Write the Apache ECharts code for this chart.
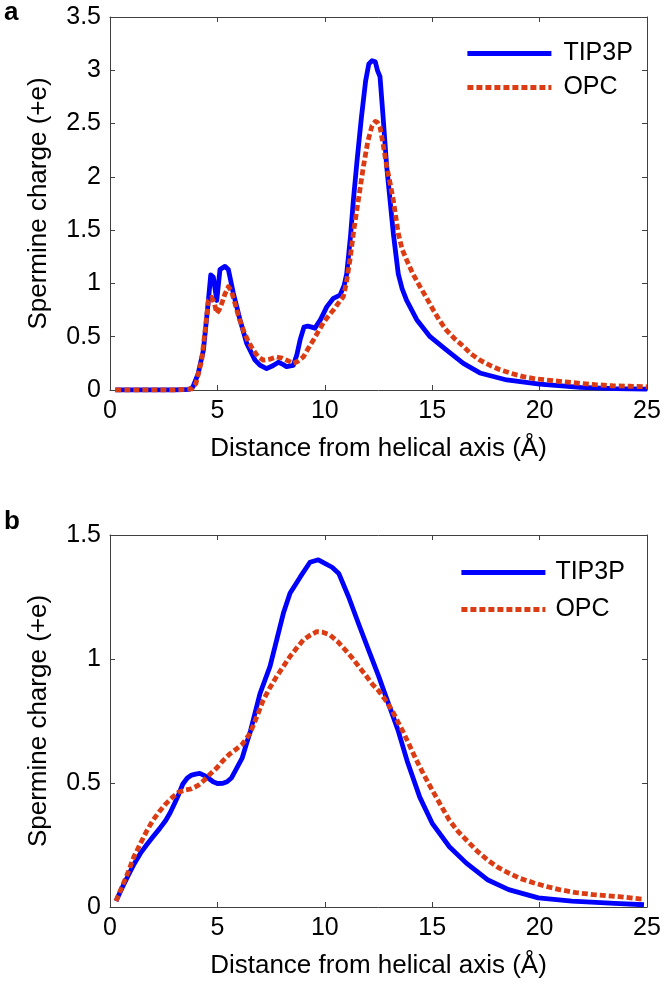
<!DOCTYPE html>
<html><head><meta charset="utf-8">
<script src="https://cdn.jsdelivr.net/npm/echarts@6/dist/echarts.min.js"></script>
<style>html,body{margin:0;padding:0;background:#fff}#c{width:664px;height:983px}</style>
</head><body><div id="c"></div>
<script>
// ---- Panel a data ----
const aTipX = [0.25,1,2,3,3.7,3.86,4.1,4.35,4.58,4.69,4.81,4.97,5.12,5.35,5.51,5.74,6.05,6.36,6.75,7.0,7.29,7.6,7.84,8.05,8.22,8.53,8.7,8.85,9.03,9.2,9.39,9.54,9.8,10.09,10.4,10.71,10.9,11.02,11.2,11.33,11.5,11.7,11.9,12.05,12.2,12.35,12.45,12.57,12.7,12.88,13.19,13.42,13.6,13.81,14.28,14.9,15.67,16.45,17.22,18.47,20.0,21.9,23.5,25];
const aTipY = [0,0,0,0,0.005,0.03,0.15,0.375,0.84,1.08,1.06,0.84,1.13,1.16,1.13,0.91,0.66,0.44,0.28,0.23,0.20,0.23,0.26,0.24,0.22,0.23,0.33,0.47,0.59,0.60,0.59,0.58,0.66,0.78,0.86,0.89,0.98,1.09,1.45,1.78,2.15,2.55,2.9,3.06,3.09,3.08,3.0,2.94,2.6,2.10,1.47,1.09,0.95,0.84,0.66,0.50,0.375,0.25,0.16,0.094,0.056,0.025,0.012,0.008];
const aOpcX = [0.25,1,2,3,3.8,4.0,4.27,4.45,4.58,4.73,4.85,4.97,5.08,5.2,5.35,5.51,5.65,5.82,6.0,6.21,6.45,6.67,6.9,7.14,7.45,7.76,8.0,8.22,8.53,8.75,9.0,9.2,9.47,9.7,9.93,10.15,10.4,10.65,10.86,11.0,11.17,11.35,11.56,11.8,12.0,12.2,12.35,12.45,12.57,12.72,12.88,13.05,13.19,13.42,13.6,13.81,14.1,14.43,14.75,15.05,15.35,15.67,16.05,16.45,16.8,17.22,17.7,18.16,18.7,19.24,19.8,20.33,21.1,21.88,22.6,23.4,24.2,25];
const aOpcY = [0,0,0,0,0.01,0.06,0.28,0.6,0.84,0.87,0.82,0.72,0.75,0.81,0.9,0.97,0.93,0.81,0.68,0.56,0.45,0.375,0.31,0.28,0.29,0.31,0.30,0.28,0.25,0.27,0.31,0.38,0.47,0.55,0.63,0.69,0.75,0.82,0.875,1.0,1.22,1.5,1.78,2.1,2.33,2.48,2.52,2.51,2.47,2.3,2.10,1.93,1.78,1.47,1.32,1.22,1.09,0.97,0.86,0.75,0.65,0.56,0.48,0.41,0.34,0.28,0.23,0.19,0.155,0.125,0.105,0.094,0.077,0.063,0.05,0.04,0.035,0.03];

// ---- Panel b data ----
const bTipX = [0.28,0.55,0.83,1.1,1.42,1.7,2.0,2.3,2.6,2.8,3.0,3.2,3.39,3.6,3.8,3.98,4.18,4.4,4.57,4.8,5.0,5.26,5.45,5.65,5.9,6.15,6.36,6.54,6.98,7.45,7.76,8.07,8.38,8.85,9.31,9.7,10.0,10.34,10.65,11.11,11.58,12.04,12.51,12.9,13.4,13.83,14.42,15.01,15.8,16.59,17.57,18.56,19.94,21.5,23.5,24.86];
const bTipY = [0.024,0.075,0.124,0.17,0.217,0.25,0.283,0.315,0.35,0.38,0.416,0.455,0.496,0.52,0.532,0.536,0.539,0.53,0.52,0.505,0.498,0.499,0.505,0.52,0.56,0.60,0.66,0.71,0.86,0.97,1.077,1.184,1.265,1.33,1.39,1.40,1.386,1.37,1.345,1.25,1.14,1.036,0.93,0.835,0.715,0.59,0.443,0.336,0.243,0.177,0.11,0.07,0.037,0.024,0.015,0.009];
const bOpcX = [0.28,0.55,0.83,1.1,1.42,1.7,2.0,2.3,2.6,2.9,3.19,3.5,3.78,4.1,4.37,4.65,4.96,5.26,5.56,5.85,6.15,6.52,6.8,7.14,7.45,7.76,8.07,8.38,8.7,9.0,9.3,9.62,9.9,10.24,10.6,10.96,11.27,11.58,11.9,12.2,12.52,12.82,13.15,13.44,13.63,13.9,14.22,14.6,15.01,15.4,15.8,16.2,16.59,17.1,17.57,18.06,18.56,19.1,19.74,20.3,20.92,21.7,22.5,23.68,24.86];
const bOpcY = [0.024,0.08,0.137,0.2,0.257,0.305,0.35,0.385,0.416,0.442,0.463,0.472,0.476,0.49,0.51,0.535,0.56,0.59,0.616,0.635,0.656,0.7,0.76,0.835,0.885,0.93,0.97,1.01,1.045,1.077,1.095,1.11,1.108,1.097,1.07,1.036,1.005,0.97,0.935,0.90,0.87,0.835,0.79,0.74,0.709,0.66,0.60,0.535,0.47,0.41,0.35,0.305,0.27,0.225,0.19,0.16,0.137,0.115,0.097,0.083,0.07,0.058,0.05,0.042,0.031];

const seriesNames = ['TIP3P','OPC'];
const xLabel = 'Distance from helical axis (Å)';
const yLabel = 'Spermine charge (+e)';
const panelLabels = ['a','b'];

const zip = (xs, ys) => xs.map((x, i) => [x, ys[i]]);
const FONT = 'Liberation Sans';
const AX = '#404040';
const BLUE = '#0000FF';
const RED = '#DC3C14';
const LW = 4.8;

function xAxis(grid, pos, label) {
  return {
    type: 'value', gridIndex: grid, position: pos, min: 0, max: 25, interval: 5,
    axisLine: {show: true, onZero: false, lineStyle: {color: AX, width: 1}},
    axisTick: {show: true, inside: true, length: 5, lineStyle: {color: AX}},
    axisLabel: {show: label, color: '#000', fontSize: 25, fontFamily: FONT, margin: 9},
    splitLine: {show: false},
    name: label ? xLabel : '', nameLocation: 'middle', nameGap: 46,
    nameTextStyle: {color: '#000', fontSize: 26, fontFamily: FONT}
  };
}
function yAxis(grid, pos, label, max) {
  return {
    type: 'value', gridIndex: grid, position: pos, min: 0, max: max, interval: 0.5,
    axisLine: {show: true, onZero: false, lineStyle: {color: AX, width: 1}},
    axisTick: {show: true, inside: true, length: 5, lineStyle: {color: AX}},
    axisLabel: {show: label, color: '#000', fontSize: 25, fontFamily: FONT, margin: 9},
    splitLine: {show: false},
    name: label ? yLabel : '', nameLocation: 'middle', nameGap: 58,
    nameTextStyle: {color: '#000', fontSize: 26, fontFamily: FONT}
  };
}
function line(name, data, xi, yi, color, dashed) {
  return {
    type: 'line', name, data, xAxisIndex: xi, yAxisIndex: yi,
    symbol: 'none', smooth: false, z: dashed ? 3 : 2,
    lineStyle: {color, width: LW, type: dashed ? [6, 3] : 'solid', cap: 'butt', join: 'round'},
    itemStyle: {color}
  };
}
function legend(left, top, gap, padLeft) {
  return {
    data: seriesNames, orient: 'vertical', left, top, itemWidth: 84, itemHeight: 24, itemGap: gap,
    itemStyle: {opacity: 0},
    lineStyle: {width: LW},
    textStyle: {color: '#000', fontSize: 25, fontFamily: FONT, padding: [0, 0, 0, padLeft]},
    selectedMode: false
  };
}

const chart = echarts.init(document.getElementById('c'), null, {renderer: 'canvas'});
chart.setOption({
  animation: false,
  backgroundColor: '#fff',
  grid: [
    {left: 110, top: 17, width: 537, height: 373},
    {left: 110, top: 535, width: 537, height: 372}
  ],
  xAxis: [xAxis(0, 'bottom', true), xAxis(0, 'top', false), xAxis(1, 'bottom', true), xAxis(1, 'top', false)],
  yAxis: [yAxis(0, 'left', true, 3.5), yAxis(0, 'right', false, 3.5), yAxis(1, 'left', true, 1.5), yAxis(1, 'right', false, 1.5)],
  legend: [legend(460, 36, 9, 7), legend(454, 555, 12, 5)],
  series: [
    line(seriesNames[0], zip(aTipX, aTipY), 0, 0, BLUE, false),
    line(seriesNames[1], zip(aOpcX, aOpcY), 0, 0, RED, true),
    line(seriesNames[0], zip(bTipX, bTipY), 2, 2, BLUE, false),
    line(seriesNames[1], zip(bOpcX, bOpcY), 2, 2, RED, true)
  ],
  graphic: [
    {type: 'text', left: 4, top: 0, style: {text: panelLabels[0], font: 'bold 26px ' + FONT, fill: '#000'}},
    {type: 'text', left: 4, top: 509, style: {text: panelLabels[1], font: 'bold 26px ' + FONT, fill: '#000'}}
  ]
});
</script></body></html>
